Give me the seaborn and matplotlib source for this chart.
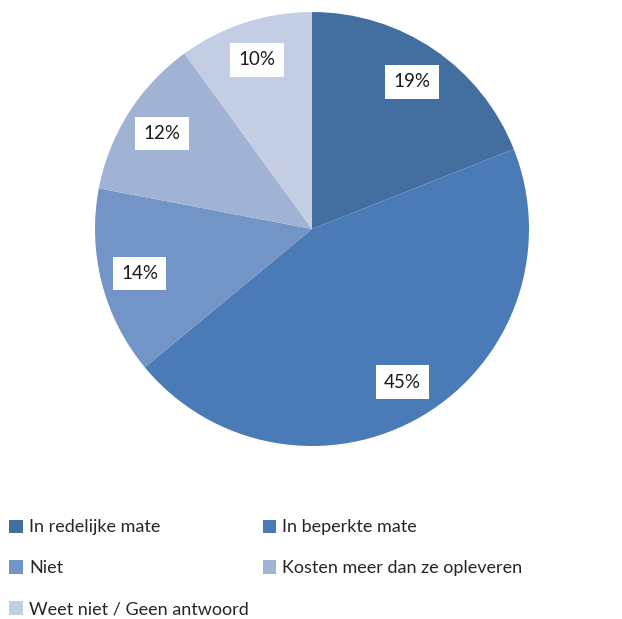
import matplotlib
matplotlib.use("Agg")
import matplotlib.pyplot as plt
import seaborn as sns
from matplotlib.patches import Patch

categories = ["In redelijke mate", "In beperkte mate", "Niet",
              "Kosten meer dan ze opleveren", "Weet niet / Geen antwoord"]
values = [19, 45, 14, 12, 10]
colors = ["#436EA0", "#4A7BB6", "#7394C6", "#A0B3D5", "#C3CDE3"]

sns.set_theme(style="white")
plt.rcParams['font.family'] = ['Lato', 'DejaVu Sans']

fig = plt.figure(figsize=(6.22, 6.19), dpi=100)
ax = fig.add_axes([95/622, 1-446/619, 434/622, 434/619])
wedges, texts = ax.pie(values, colors=colors, startangle=90, counterclock=False,
                       labels=[f"{v}%" for v in values], labeldistance=0.82,
                       wedgeprops=dict(linewidth=0), radius=1.0,
                       textprops=dict(fontsize=13.5, color="#1a1a1a"))
for t in texts:
    t.set_ha("center"); t.set_va("center")
    t.set_bbox(dict(facecolor="white", edgecolor="none", pad=6))
ax.set_xlim(-1, 1); ax.set_ylim(-1, 1)
ax.set_aspect("equal")
ax.axis("off")

order = [0, 2, 4, 1, 3]
handles = [Patch(facecolor=colors[i], edgecolor="none") for i in order]
labels = [categories[i] for i in order]
fig.legend(handles, labels, ncol=2, loc="upper left",
           bbox_to_anchor=(4/622, 1-514/619), frameon=False,
           fontsize=13, handlelength=0.75, handleheight=0.75,
           handletextpad=0.35, labelspacing=1.38, columnspacing=0.75,
           borderaxespad=0, borderpad=0.3)

fig.savefig("out.png", dpi=100)
